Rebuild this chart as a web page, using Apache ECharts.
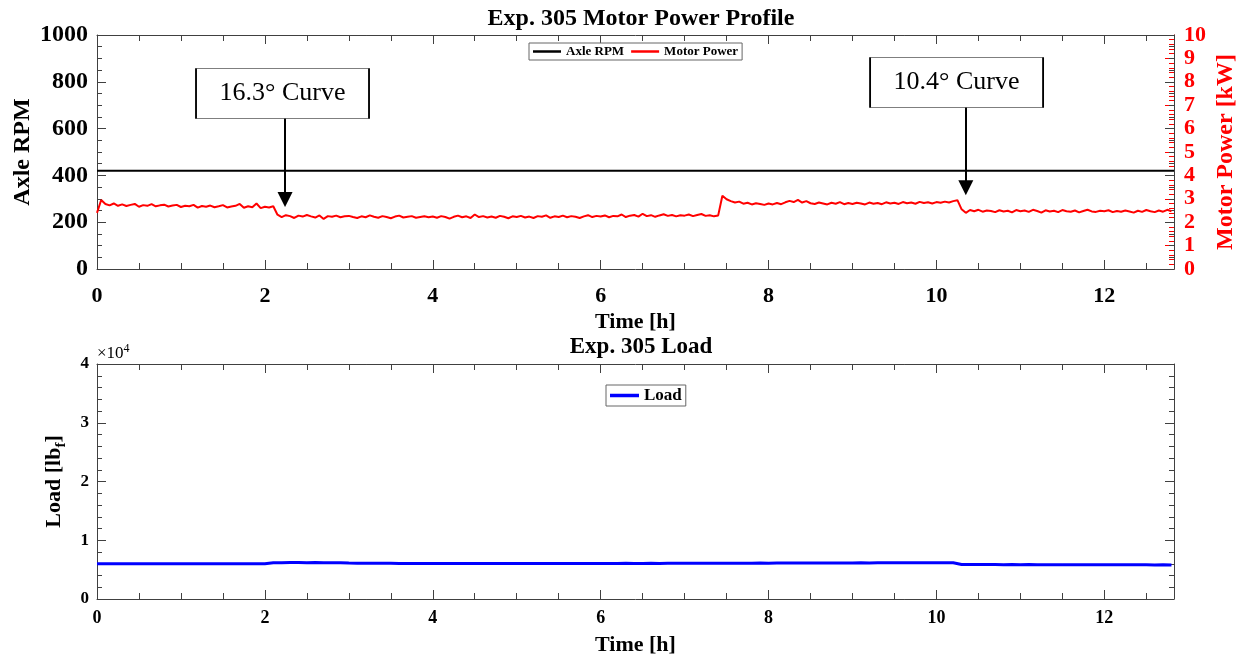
<!DOCTYPE html>
<html><head><meta charset="utf-8">
<script src="https://cdn.jsdelivr.net/npm/echarts@6/dist/echarts.min.js"></script>
<style>html,body{margin:0;padding:0;background:#fff}#c{width:1244px;height:658px}</style>
</head><body><div id="c"></div>
<script>
const FONT = '"Liberation Serif","Times New Roman",serif';

// ---- data ----
const timeMax = 12.83;           // h, end of the record
const powerStep = 0.05;          // h between motor-power samples
const motorPowerKW = [
  2.40,2.95,2.78,2.72,2.80,2.70,2.76,2.69,2.74,2.78,2.66,2.73,2.70,2.77,2.68,2.72,2.75,2.67,2.71,2.74,
  2.65,2.70,2.68,2.74,2.62,2.69,2.66,2.71,2.64,2.68,2.73,2.63,2.67,2.70,2.78,2.62,2.68,2.64,2.80,2.60,
  2.66,2.63,2.68,2.32,2.22,2.30,2.26,2.18,2.28,2.24,2.31,2.25,2.20,2.29,2.14,2.26,2.23,2.28,2.21,2.25,
  2.27,2.22,2.18,2.25,2.21,2.29,2.23,2.19,2.26,2.22,2.17,2.24,2.28,2.20,2.23,2.26,2.19,2.22,2.25,2.21,
  2.24,2.19,2.26,2.22,2.15,2.23,2.28,2.21,2.25,2.18,2.33,2.22,2.26,2.20,2.24,2.19,2.27,2.23,2.17,2.25,
  2.22,2.27,2.20,2.24,2.18,2.26,2.23,2.29,2.19,2.25,2.22,2.28,2.21,2.26,2.23,2.18,2.25,2.30,2.22,2.27,
  2.24,2.29,2.21,2.27,2.25,2.33,2.22,2.28,2.31,2.24,2.36,2.26,2.30,2.23,2.29,2.34,2.27,2.31,2.25,2.30,
  2.28,2.33,2.26,2.31,2.35,2.27,2.30,2.25,2.29,3.13,2.98,2.90,2.84,2.88,2.79,2.83,2.76,2.81,2.78,2.74,
  2.80,2.76,2.82,2.77,2.85,2.91,2.86,2.95,2.84,2.90,2.81,2.78,2.84,2.80,2.76,2.83,2.79,2.86,2.77,2.82,
  2.78,2.83,2.80,2.76,2.84,2.79,2.82,2.77,2.85,2.80,2.83,2.78,2.86,2.81,2.84,2.79,2.87,2.82,2.85,2.80,
  2.86,2.83,2.88,2.84,2.90,2.94,2.55,2.40,2.52,2.47,2.53,2.45,2.50,2.48,2.43,2.51,2.46,2.49,2.42,2.52,
  2.47,2.50,2.44,2.53,2.48,2.41,2.51,2.46,2.49,2.43,2.52,2.47,2.45,2.50,2.42,2.48,2.53,2.46,2.44,2.49,
  2.47,2.51,2.43,2.48,2.45,2.50,2.46,2.41,2.49,2.44,2.52,2.47,2.43,2.50,2.45,2.53,2.47
];
const loadStep = 0.1;            // h between load samples
const loadLbf = [
  6000,6010,5990,6000,6020,5990,6010,6000,5980,6000,
  6010,5990,6000,6020,5990,6000,6010,5980,6000,5990,
  6000,6170,6190,6200,6210,6190,6200,6180,6170,6150,
  6120,6100,6090,6080,6080,6070,6060,6060,6050,6050,
  6050,6040,6050,6040,6040,6050,6040,6050,6050,6040,
  6050,6050,6040,6050,6060,6050,6050,6060,6050,6060,
  6060,6050,6060,6070,6060,6060,6070,6060,6070,6070,
  6070,6080,6070,6080,6090,6100,6090,6100,6100,6110,
  6100,6110,6120,6110,6120,6130,6120,6130,6140,6130,
  6140,6150,6140,6150,6160,6150,6160,6170,6160,6170,
  6160,6170,6160,5880,5870,5860,5870,5860,5850,5860,
  5850,5860,5850,5840,5850,5840,5830,5840,5830,5830,
  5820,5830,5820,5810,5820,5810,5800,5810,5800
];
const axleTimes = [0, 12.83];
const axleRpm = [420, 420];
const curveLabels = ['16.3° Curve', '10.4° Curve'];
const curveTimes = [2.24, 10.35];     // h, where the arrows point
const curveArrowTipRpm = [267, 317];  // level of arrow tips (on RPM axis)

// ---- build series data ----
const powerData = motorPowerKW.map((v, i) => [+(i * powerStep).toFixed(3), v]);
const loadData = loadLbf.map((v, i) => [+(i * loadStep).toFixed(3), v]);
const axleData = axleTimes.map((t, i) => [t, axleRpm[i]]);

const AX = '#404040';
const chart = echarts.init(document.getElementById('c'), null, {renderer: 'canvas'});

function xAxesFor(grid, opts) {
  const base = {gridIndex: grid, type: 'value', min: 0, max: timeMax, splitLine: {show: false}};
  return [
    Object.assign({}, base, {
      position: 'bottom', interval: 2,
      axisLine: {show: true, onZero: false, lineStyle: {color: AX, width: 1}},
      axisTick: {show: true, inside: true, length: 9, lineStyle: {color: AX}},
      axisLabel: {show: true, showMaxLabel: false, margin: opts.labelMargin, color: '#000',
        fontFamily: FONT, fontWeight: 'bold', fontSize: opts.labelSize},
      name: 'Time [h]', nameLocation: 'middle', nameGap: opts.nameGap, nameMoveOverlap: false,
      nameTextStyle: {fontFamily: FONT, fontWeight: 'bold', fontSize: 22, color: '#000'}
    }),
    Object.assign({}, base, {
      position: 'bottom', interval: 0.5,
      axisLine: {show: false, onZero: false},
      axisTick: {show: true, inside: true, length: 6, lineStyle: {color: AX}},
      axisLabel: {show: false}
    }),
    Object.assign({}, base, {
      position: 'top', interval: 2,
      axisLine: {show: true, onZero: false, lineStyle: {color: AX, width: 1}},
      axisTick: {show: true, inside: true, length: 9, lineStyle: {color: AX}},
      axisLabel: {show: false}
    }),
    Object.assign({}, base, {
      position: 'top', interval: 0.5,
      axisLine: {show: false, onZero: false},
      axisTick: {show: true, inside: true, length: 6, lineStyle: {color: AX}},
      axisLabel: {show: false}
    })
  ];
}

function yAxis(o) {
  return Object.assign({
    type: 'value', splitLine: {show: false}, nameMoveOverlap: false,
    axisLine: {show: true, onZero: false, lineStyle: {color: o.color || AX}},
    axisTick: {show: true, inside: true, length: 9, lineStyle: {color: o.color || AX}},
    minorTick: {show: true, splitNumber: o.minorSplit, length: 5, lineStyle: {color: o.color || AX}}
  }, o.extra);
}

const option = {
  animation: false,
  backgroundColor: '#fff',
  title: [
    {text: 'Exp. 305 Motor Power Profile', left: 636, textAlign: 'center', top: 2,
      textStyle: {fontFamily: FONT, fontWeight: 'bold', fontSize: 24, color: '#000'}},
    {text: 'Exp. 305 Load', left: 636, textAlign: 'center', top: 331,
      textStyle: {fontFamily: FONT, fontWeight: 'bold', fontSize: 23, color: '#000'}}
  ],
  legend: [
    {data: ['Axle RPM', 'Motor Power'], left: 529, top: 43, icon: 'rect', itemWidth: 28, itemHeight: 2.5,
      itemGap: 7, padding: [2, 4, 2, 4], borderColor: '#666', borderWidth: 1, backgroundColor: '#fff',
      textStyle: {fontFamily: FONT, fontWeight: 'bold', fontSize: 13, color: '#000'}},
    {data: ['Load'], left: 606, top: 385, icon: 'rect', itemWidth: 29, itemHeight: 3.5,
      padding: [2, 4, 2, 4], borderColor: '#666', borderWidth: 1, backgroundColor: '#fff',
      textStyle: {fontFamily: FONT, fontWeight: 'bold', fontSize: 17, color: '#000'}}
  ],
  grid: [
    {left: 97, top: 35, width: 1077, height: 234, outerBoundsMode: 'none', containLabel: false},
    {left: 97, top: 364, width: 1077, height: 235, outerBoundsMode: 'none', containLabel: false}
  ],
  xAxis: [].concat(
    xAxesFor(0, {labelSize: 22, labelMargin: 16, nameGap: 42}),
    xAxesFor(1, {labelSize: 18, labelMargin: 10, nameGap: 35})
  ),
  yAxis: [
    yAxis({minorSplit: 4, extra: {gridIndex: 0, position: 'left', min: 0, max: 1000, interval: 200,
      axisLabel: {margin: 9, color: '#000', fontFamily: FONT, fontWeight: 'bold', fontSize: 24,
        formatter: v => String(v)},
      name: 'Axle RPM', nameLocation: 'middle', nameGap: 62,
      nameTextStyle: {fontFamily: FONT, fontWeight: 'bold', fontSize: 24, color: '#000'}}}),
    yAxis({minorSplit: 5, color: '#ff0000', extra: {gridIndex: 0, position: 'right', min: 0, max: 10, interval: 1,
      axisLabel: {margin: 10, color: '#ff0000', fontFamily: FONT, fontWeight: 'bold', fontSize: 22},
      name: 'Motor Power [kW]', nameLocation: 'middle', nameGap: 40,
      nameTextStyle: {fontFamily: FONT, fontWeight: 'bold', fontSize: 24, color: '#ff0000'}}}),
    yAxis({minorSplit: 4, extra: {gridIndex: 0, position: 'right', min: 0, max: 1000, interval: 200,
      axisLabel: {show: false}}}),
    yAxis({minorSplit: 5, extra: {gridIndex: 1, position: 'left', min: 0, max: 40000, interval: 10000,
      axisLabel: {margin: 8, color: '#000', fontFamily: FONT, fontWeight: 'bold', fontSize: 17,
        formatter: v => String(v / 10000)},
      name: 'Load [lb{sub|f}]', nameLocation: 'middle', nameGap: 28,
      nameTextStyle: {fontFamily: FONT, fontWeight: 'bold', fontSize: 22, color: '#000', lineHeight: 30,
        rich: {sub: {fontFamily: FONT, fontWeight: 'bold', fontSize: 15, color: '#000', lineHeight: 15, verticalAlign: 'bottom'}}}}}),
    yAxis({minorSplit: 5, extra: {gridIndex: 1, position: 'right', min: 0, max: 40000, interval: 10000,
      axisLabel: {show: false}}})
  ],
  graphic: [
    {type: 'text', left: 97, top: 343, z: 10,
      style: {text: '×10{sup|4}', fontFamily: FONT, fontSize: 17, fill: '#000', lineHeight: 22,
        rich: {sup: {fontFamily: FONT, fontSize: 12, fill: '#000', lineHeight: 12, verticalAlign: 'top'}}}}
  ],
  series: [
    {name: 'Axle RPM', type: 'line', xAxisIndex: 0, yAxisIndex: 0, data: axleData,
      showSymbol: false, symbol: 'none', color: '#000', lineStyle: {color: '#000', width: 2}, z: 3,
      markPoint: {
        symbol: 'rect', symbolSize: [173, 50], silent: true,
        itemStyle: {color: '#fff', borderColor: '#000', borderWidth: 1},
        label: {show: true, position: 'inside', color: '#000', fontFamily: FONT, fontSize: 26,
          fontWeight: 'normal', formatter: p => p.name},
        data: [
          {name: curveLabels[0], coord: [2.21, 750]},
          {name: curveLabels[1], coord: [10.24, 797]}
        ]
      },
      markLine: {
        silent: true, symbol: ['none', 'triangle'], symbolSize: 15,
        label: {show: false},
        lineStyle: {color: '#000', width: 2, type: 'solid'},
        emphasis: {disabled: true},
        data: [
          [{coord: [curveTimes[0], 644]}, {coord: [curveTimes[0], curveArrowTipRpm[0] + 30]}],
          [{coord: [curveTimes[1], 691]}, {coord: [curveTimes[1], curveArrowTipRpm[1] + 30]}]
        ]
      }},
    {name: 'Motor Power', type: 'line', xAxisIndex: 0, yAxisIndex: 1, data: powerData,
      showSymbol: false, symbol: 'none', color: '#ff0000', lineStyle: {color: '#ff0000', width: 2}, z: 2},
    {name: 'Load', type: 'line', xAxisIndex: 4, yAxisIndex: 3, data: loadData,
      showSymbol: false, symbol: 'none', color: '#0000ff', lineStyle: {color: '#0000ff', width: 3}}
  ]
};
chart.setOption(option);
</script></body></html>
